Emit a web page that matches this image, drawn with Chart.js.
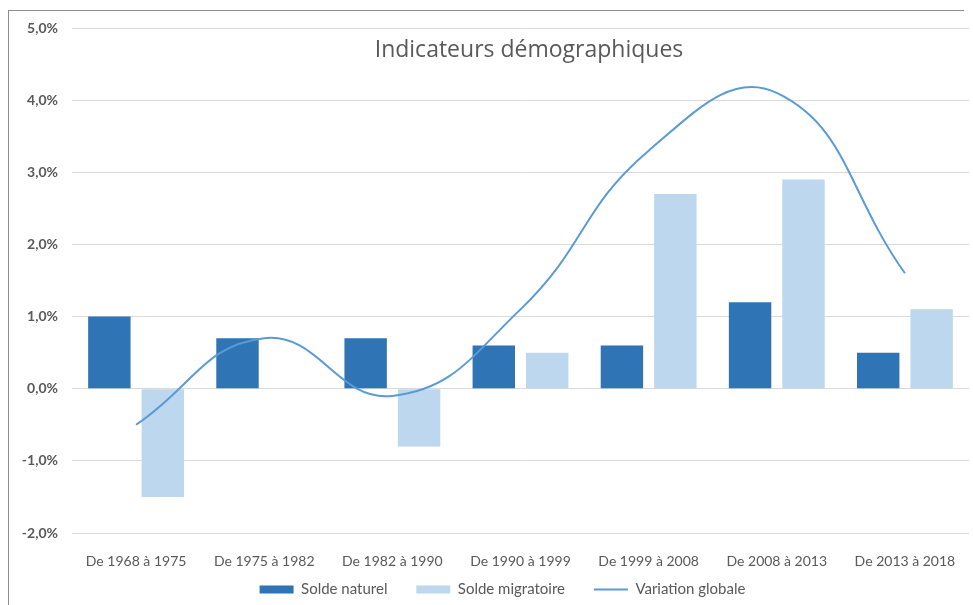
<!DOCTYPE html>
<html>
<head>
<meta charset="utf-8">
<script src="https://cdn.jsdelivr.net/npm/chart.js@4"></script>
<style>
    html, body { margin: 0; padding: 0; background: #fff; }
    #wrap { position: relative; width: 973px; height: 605px; }
    #frame { position: absolute; left: 8px; top: 10px; width: 955px; height: 600px;
             border-left: 1px solid #8c8c8c; border-top: 1px solid #8c8c8c; }
    canvas { position: absolute; left: 0; top: 0; }
</style>
</head>
<body>
<div id="wrap">
    <div id="frame"></div>
    <canvas id="chartDemo" width="973" height="605"></canvas>
</div>
<script>
var periods = ["De 1968 à 1975", "De 1975 à 1982", "De 1982 à 1990", "De 1990 à 1999",
               "De 1999 à 2008", "De 2008 à 2013", "De 2013 à 2018"];
var soldeNaturel = [1.0, 0.7, 0.7, 0.6, 0.6, 1.2, 0.5];
var soldeMigratoire = [-1.5, 0.0, -0.8, 0.5, 2.7, 2.9, 1.1];
var variationGlobale = [-0.5, 0.7, -0.1, 1.1, 3.3, 4.1, 1.6];
var chartTitle = "Indicateurs démographiques";

var greyText = "#595959";

// title sits inside the plot, between the top gridlines
// legend is nudged right a bit, like in the original
var innerTitle = {
    id: 'innerTitle',
    afterLayout: function(chart) {
        chart.legend.left += 18;
        chart.legend.right += 18;
    },
    afterDraw: function(chart) {
        var ctx = chart.ctx;
        ctx.save();
        ctx.font = "23px 'Open Sans'";
        ctx.fillStyle = greyText;
        ctx.textAlign = 'center';
        ctx.textBaseline = 'middle';
        ctx.fillText(chartTitle, 529, 50);
        ctx.restore();
    }
};

var dataDemo = {
    labels: periods,
    datasets: [
        {
            type: 'bar',
            label: "Solde naturel",
            backgroundColor: "#2f75b5",
            data: soldeNaturel,
            order: 1
        },{
            type: 'bar',
            label: "Solde migratoire",
            backgroundColor: "#bdd7ee",
            data: soldeMigratoire,
            order: 2
        },{
            type: 'line',
            label: "Variation globale",
            borderColor: "#5b9bd5",
            backgroundColor: "#5b9bd5",
            borderWidth: 2,
            pointRadius: 0,
            tension: 0.45,
            data: variationGlobale,
            order: 0
        }
    ]
};

new Chart(document.querySelector("#chartDemo").getContext("2d"), {
    type: 'bar',
    data: dataDemo,
    plugins: [innerTitle],
    options: {
        responsive: false,
        animation: false,
        datasets: {
            bar: { categoryPercentage: 0.834, barPercentage: 0.794 }
        },
        layout: { padding: { top: 28, right: 4, left: 0, bottom: -2 } },
        scales: {
            x: {
                grid: { display: false },
                border: { display: false },
                afterFit: function(scale) { scale.height = 39; },
                ticks: {
                    color: greyText,
                    padding: 12,
                    maxRotation: 0,
                    font: { family: 'Lato', size: 14 }
                }
            },
            y: {
                min: -2,
                max: 5,
                grid: { color: "#d9d9d9", drawTicks: false },
                border: { display: false },
                afterFit: function(scale) { scale.width = 72; },
                ticks: {
                    stepSize: 1,
                    padding: 14,
                    color: greyText,
                    font: { family: 'Lato', size: 14, weight: 'bold' },
                    callback: function(value) {
                        return value.toFixed(1).replace('.', ',') + '%';
                    }
                }
            }
        },
        plugins: {
            tooltip: { enabled: false },
            legend: {
                position: 'bottom',
                labels: {
                    color: greyText,
                    font: { family: 'Lato', size: 15 },
                    usePointStyle: true,
                    pointStyleWidth: 34,
                    boxHeight: 8,
                    padding: 10,
                    sort: function(a, b) { return a.datasetIndex - b.datasetIndex; },
                    generateLabels: function(chart) {
                        var items = Chart.defaults.plugins.legend.labels.generateLabels(chart);
                        items.forEach(function(item) {
                            if (item.datasetIndex === 2) {
                                item.pointStyle = 'line';
                                item.lineWidth = 2;
                                item.strokeStyle = "#5b9bd5";
                            } else {
                                // wider gap after the bar entries
                                item.text = item.text + '\u2002\u2002 ';
                                item.pointStyle = 'rect';
                                item.lineWidth = 0;
                            }
                        });
                        return items;
                    }
                }
            }
        }
    }
});
</script>
</body>
</html>
